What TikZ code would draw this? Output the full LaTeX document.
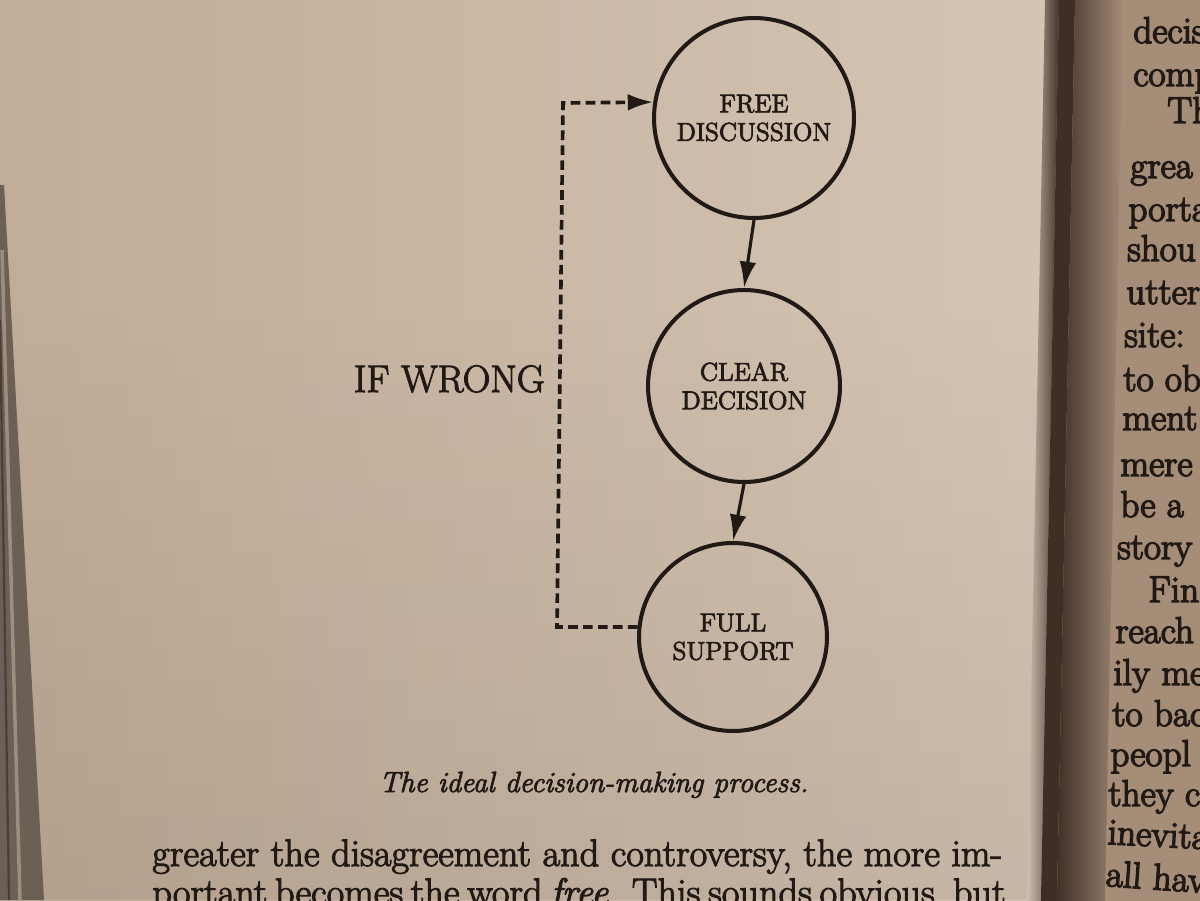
\documentclass[tikz,border=0pt]{standalone}
\usetikzlibrary{arrows.meta,calc,fadings}
\definecolor{pleft}{RGB}{192,172,151}
\definecolor{pright}{RGB}{214,197,181}
\definecolor{rpage}{RGB}{166,141,119}
\definecolor{gutter}{RGB}{62,46,38}
\definecolor{edge}{RGB}{108,95,85}
\definecolor{inkc}{RGB}{32,25,21}
% heavier print: glyphs are filled and stroked with the text colour
\newcommand\heavy[2][0.45]{\special{pdf:literal direct 2 Tr #1 w}#2\special{pdf:literal direct 0 Tr}}
\tikzset{
  stage/.style={circle, draw=inkc, line width=2.3pt, inner sep=0pt,
    align=center, text=inkc, font=\fontsize{14.6}{16.2}\selectfont},
  flow/.style={draw=inkc, line width=1.8pt,
    -{Latex[length=15pt,width=9.5pt]}},
  loopback/.style={draw=inkc, line width=2.1pt, dash pattern=on 5.5pt off 3pt,
    -{Latex[length=14.5pt,width=9.5pt]}},
  bodytext/.style={anchor=base west, text=inkc, inner sep=0pt,
    font=\fontsize{21.8}{24}\selectfont},
  rtext/.style={anchor=base west, text=inkc, inner sep=0pt,
    font=\fontsize{21.2}{23}\selectfont}
}
\begin{document}
\begin{tikzpicture}[x=0.02cm,y=-0.02cm]
\useasboundingbox (0,0) rectangle (1200,900);
\clip (0,0) rectangle (1200,900);

% paper of the left page, brighter towards the spine
\shade[left color=pleft, right color=pright] (0,0) rectangle (1070,900);
\fill[black, opacity=0.07, path fading=north] (0,300) rectangle (1070,900);

% spine: shadow and facing page, following the slanted fold
\begin{scope}[rotate around={-1.15:(1046,450)}]
  \fill[rpage] (1046,-60) rectangle (1260,960);
  \shade[left color=pright, right color=gutter] (1036,-60) rectangle (1050,960);
  \fill[gutter] (1050,-60) rectangle (1066,960);
  \shade[left color=gutter, right color=rpage] (1066,-60) rectangle (1114,960);
\end{scope}

% page edges along the left border
\fill[edge] (0,185) -- (4,185) -- (44,900) -- (0,900) -- cycle;
\draw[pleft!60!edge, line width=2pt] (2,250) -- (20,900);
\draw[edge!65!black, line width=1.2pt] (0,320) -- (9,900);

% the three stages
\node[stage, minimum size=4.0cm]  (free)  at (754,118) {\heavy{FREE}\\\heavy{DISCUSSION}};
\node[stage, minimum size=3.84cm] (clear) at (744,386) {\heavy{CLEAR}\\\heavy{DECISION}};
\node[stage, minimum size=3.76cm] (full)  at (733,637) {\heavy{FULL}\\\heavy{SUPPORT}};

\draw[flow] (free.south) -- (clear.north);
\draw[flow] (clear.south) -- (full.north);

% feedback loop
\coordinate (lb) at (557,627);
\coordinate (lt) at (563,103);
\draw[loopback] (full.174) -- (lb) -- (lt) -- (free.171);

\node[anchor=base east, text=inkc, inner sep=0pt,
  font=\fontsize{21.8}{24}\selectfont] (iw) at (545,392) {\heavy[0.6]{IF WRONG}};

% caption
\node[anchor=base, text=inkc, inner sep=0pt,
  font=\fontsize{16.6}{18}\selectfont\itshape] (cap) at (594,792)
  {\heavy{The ideal decision-making process.}};

% running text below the figure, set to the full measure
\node[bodytext] (l1) at (152,866)
  {\heavy[0.6]{\makebox[17.0cm][s]{greater the disagreement and controversy, the more im-}}};
\node[bodytext] (l2) at (152,905)
  {\heavy[0.6]{\makebox[17.0cm][s]{portant becomes the word \textit{free}. This sounds obvious, but}}};

% facing page
\foreach \px/\py/\t [count=\i] in {
  1133/43/decis, 1133/86/comp, 1167/123/Th, 1130/178/grea,
  1128/221/porta, 1127/261/shou, 1126/304/utter, 1124/347/site:,
  1123/391/to ob, 1122/430/ment, 1120/476/mere, 1120/517/be a,
  1117/559/story, 1148/602/Fin, 1115/643/reach, 1113/685/ily me,
  1112/726/to bac, 1110/766/peopl, 1108/806/they c}
  \node[rtext] (rp\i) at (\px,\py) {\heavy[0.8]{\t}};
\node[rtext, rotate=-3] (rp20) at (1107,844) {\heavy[0.8]{inevita}};
\node[rtext, rotate=-4] (rp21) at (1105,886) {\heavy[0.8]{all hav}};
\end{tikzpicture}
\end{document}
